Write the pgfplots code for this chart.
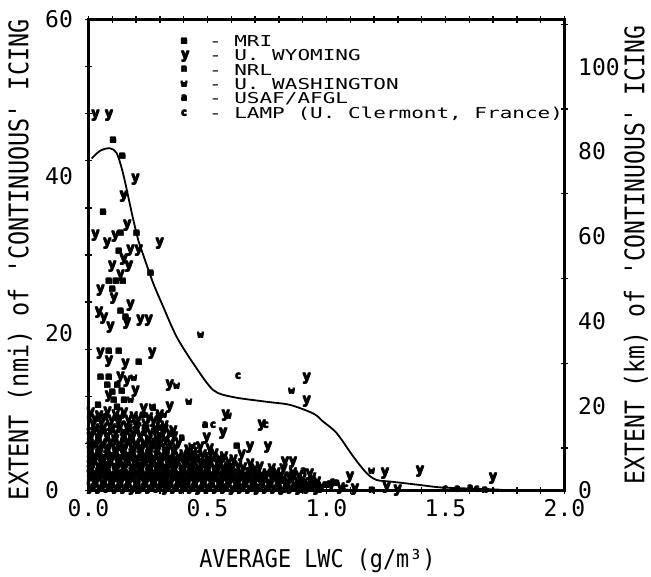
\documentclass[border=0pt]{standalone}
\usepackage{fontspec}
\setmainfont{DejaVu Sans Mono}
\newfontfamily\plotfont{DejaVu Sans Mono}
\usepackage{pgfplots}
\pgfplotsset{compat=1.18}

% plotter-style text helpers
\newcommand\tickfont{\plotfont\fontsize{23}{23}\selectfont}
\newcommand\labfont{\plotfont\fontsize{27}{27}\selectfont}
\newcommand\xlabfont{\plotfont\fontsize{24.5}{24.5}\selectfont}
\newcommand\leg[1]{\scalebox{1.4}[1]{#1}}
\newcommand\q{\textquotesingle}
% heavy pen letter: the glyph overprinted with small offsets
\newcommand\fat[1]{\makebox[0pt][l]{#1}\makebox[0pt][l]{\hspace{1pt}#1}%
  \makebox[0pt][l]{\raisebox{1pt}{#1}}\hspace{1pt}\raisebox{1pt}{#1}}

\pgfplotsset{
  chartframe/.style={
    at={(88.5pt,85.5pt)}, anchor=south west,
    scale only axis, width=476pt, height=471pt,
    xmin=0, xmax=2,
    axis line style={line width=2.2pt},
    tick style={line width=1.3pt, black},
    tick align=center,
    major tick length=0pt, minor tick length=7pt,
  },
  lettermark/.style={only marks, mark=text, text mark={\fat{#1}}, text mark as node=true,
    text mark style={font=\plotfont\bfseries\fontsize{10}{10}\selectfont, inner sep=0pt, draw=none}},
  bigletter/.style={only marks, mark=text, text mark={\fat{#1}}, text mark as node=true,
    text mark style={font=\plotfont\bfseries\fontsize{14}{14}\selectfont, inner sep=0pt, draw=none}},
}

\begin{document}
\begin{tikzpicture}
\useasboundingbox (0,0) rectangle (651pt,576pt);

% left axis: extent in nautical miles
\begin{axis}[
  chartframe,
  ymin=0, ymax=60,
  xtick={0,0.5,1,1.5,2}, xticklabels={0.0,0.5,1.0,1.5,2.0},
  minor xtick={0,0.1,0.2,0.3,0.4,0.5,0.6,0.7,0.8,0.9,1.0,1.1,1.2,1.3,1.4,1.5,1.6,1.7,1.8,1.9,2.0},
  ytick={0,20,40,60}, yticklabels={0,20,40,60},
  minor ytick={0,6,12,18,24,30,36,42,48,54,60},
  ytick pos=left,
  xticklabel style={font=\tickfont, anchor=north, inner sep=0pt, yshift=-9pt},
  yticklabel style={font=\tickfont, anchor=west, inner sep=0pt, xshift=-43.5pt},
  every axis x label/.style={at={(axis description cs:0.481,-0.150)}, anchor=center, font=\xlabfont},
  every axis y label/.style={at={(axis description cs:-0.144,0.49)}, rotate=90, anchor=center, font=\labfont},
  xlabel={\scalebox{0.89}[1]{AVERAGE LWC (g/m³)}},
  ylabel={\scalebox{0.87}[1]{EXTENT (nmi) of \q CONTINUOUS\q\ ICING}},
  legend style={at={(axis description cs:0.1796,0.969)}, anchor=north west,
    draw=none, fill=none, inner sep=0pt, row sep=0pt, column sep=19pt,
    font=\plotfont\fontsize{15}{15}\selectfont, nodes={inner sep=0pt},
    cells={anchor=west}},
  legend image code/.code={\path[#1] plot coordinates {(0pt,0pt)}; \path (-6pt,-7pt) (6pt,7pt);},
]

% envelope curve
\addplot[black, line width=1.8pt, smooth, forget plot] coordinates {
  (0.013,42.3) (0.05,43.3) (0.09,43.6) (0.118,43.0) (0.14,41.0) (0.158,38.7)
  (0.175,36.3) (0.192,34.0) (0.21,31.8) (0.23,30.0) (0.272,26.4) (0.314,23.4)
  (0.37,19.6) (0.44,16.2) (0.524,12.8) (0.608,11.9) (0.749,11.3) (0.847,10.9)
  (0.945,9.8) (0.985,8.8) (1.043,7.3) (1.113,4.3) (1.169,2.2) (1.211,1.34)
  (1.274,1.12) (1.393,0.7) (1.477,0.4) (1.60,0.25) (1.70,0.15) (1.77,0.0)
};

% m - MRI
\addplot[lettermark=m] coordinates {
  (0.104,44.6) (0.142,42.6) (0.062,35.5) (0.135,32.8) (0.202,32.8) (0.128,30.5)
  (0.261,27.7) (0.086,26.7) (0.115,26.7) (0.145,26.7) (0.100,25.6) (0.135,22.8)
  (0.156,22.1) (0.086,17.7) (0.128,17.7) (0.212,16.4) (0.051,14.4) (0.086,14.4)
  (0.079,13.4) (0.121,13.4) (0.107,11.5) (0.150,11.5) (0.623,5.6) (0.300,7.9)
  (0.070,3.0) (0.140,5.4) (0.220,1.8) (0.310,2.9) (0.400,0.8) (0.520,1.6)
  (0.630,0.6) (0.740,1.5) (0.880,0.5) (0.060,8.0) (0.180,6.6) (0.250,3.9)
  (0.040,10.9) (0.120,10.6) (0.100,12.5) (0.140,12.7) (0.070,9.3) (0.230,9.6)
  (0.160,4.4) (0.280,6.3) (0.350,3.8) (0.450,2.6) (0.560,0.4) (0.690,2.4)
  (0.020,5.8) (0.110,1.4) (0.200,0.3) (0.330,0.9) (0.480,3.4) (0.600,1.9)
};
\addlegendentry{\leg{- MRI}}

% y - U. Wyoming
\addplot[bigletter=y] coordinates {
  (0.030,47.8) (0.086,47.8) (0.198,39.6) (0.149,37.4) (0.163,33.8) (0.030,32.5)
  (0.079,31.5) (0.114,32.3) (0.300,31.5) (0.177,30.5) (0.212,30.5) (0.149,29.4)
  (0.100,28.5) (0.170,28.5) (0.135,27.4) (0.051,25.5) (0.107,24.5) (0.177,23.5)
  (0.044,22.6) (0.065,21.9) (0.162,21.3) (0.219,21.7) (0.254,21.7) (0.093,20.7)
  (0.051,17.5) (0.086,16.4) (0.156,16.0) (0.268,17.5) (0.135,14.4) (0.163,13.9)
  (0.198,12.6) (0.086,11.9) (0.342,13.4) (0.233,10.3) (0.342,10.5)
  (0.917,14.3) (0.917,11.3) (0.566,7.3) (0.728,8.3) (0.497,6.6) (0.679,5.4)
  (0.644,4.4) (0.755,5.4) (0.826,3.5) (0.860,3.5) (0.930,2.0) (1.246,2.2)
  (1.099,1.6) (1.253,0.4) (1.300,0.0) (1.393,2.4) (1.700,1.55) (0.577,9.6)
  (0.356,7.5) (0.300,9.2)
  % dense band below 10 nmi
  (0.010,9.8) (0.045,9.4) (0.080,9.9) (0.115,9.5) (0.150,9.8) (0.190,9.3) (0.300,9.6)
  (0.028,9.0) (0.063,9.1) (0.098,8.9) (0.133,9.2) (0.168,8.9) (0.210,9.0) (0.255,9.1)
  (0.020,8.4) (0.055,8.7) (0.090,8.3) (0.125,8.6) (0.160,8.2) (0.200,8.5) (0.240,8.4)
  (0.275,8.8) (0.320,8.2)
  (0.028,7.8) (0.063,7.9) (0.098,7.7) (0.133,8.0) (0.168,7.7) (0.205,7.9) (0.240,7.6)
  (0.282,7.9) (0.320,7.6)
  (0.010,7.1) (0.045,7.4) (0.080,7.0) (0.115,7.3) (0.150,7.1) (0.185,7.4) (0.220,7.0)
  (0.260,7.3) (0.300,6.9) (0.340,7.2)
  (0.010,6.6) (0.043,6.5) (0.078,6.7) (0.113,6.4) (0.148,6.6) (0.183,6.5) (0.218,6.7)
  (0.253,6.4) (0.288,6.6) (0.325,6.4) (0.360,6.7)
  (0.025,6.0) (0.060,5.8) (0.095,6.1) (0.130,5.9) (0.165,6.2) (0.200,5.8) (0.235,6.0)
  (0.270,5.7) (0.305,6.1) (0.345,5.8) (0.380,6.0) (0.470,5.5) (0.510,5.2)
  (0.010,5.4) (0.043,5.3) (0.078,5.5) (0.113,5.2) (0.148,5.4) (0.183,5.3) (0.218,5.5)
  (0.253,5.2) (0.288,5.4) (0.323,5.2) (0.365,5.4) (0.420,5.1)
  (0.010,4.8) (0.045,4.6) (0.080,4.9) (0.115,4.7) (0.150,4.9) (0.185,4.6) (0.220,4.8)
  (0.255,4.5) (0.290,4.9) (0.325,4.6) (0.360,4.8) (0.400,4.5) (0.440,4.7) (0.480,4.4)
  (0.530,4.6) (0.570,4.2)
  (0.028,4.2) (0.063,4.1) (0.098,4.3) (0.133,4.0) (0.168,4.2) (0.203,4.1) (0.238,4.3)
  (0.273,4.0) (0.308,4.2) (0.343,4.0) (0.380,4.2) (0.420,4.0) (0.460,4.2) (0.505,4.0)
  (0.550,3.9) (0.610,3.8)
  (0.015,3.9) (0.050,3.8) (0.085,4.0) (0.120,3.8) (0.155,3.9) (0.190,3.7) (0.225,3.9)
  (0.260,3.7) (0.295,3.9) (0.330,3.7) (0.365,3.8) (0.400,3.6) (0.435,3.8) (0.470,3.6)
  (0.505,3.7) (0.540,3.5)
  (0.025,3.6) (0.060,3.4) (0.095,3.7) (0.130,3.5) (0.165,3.6) (0.200,3.3) (0.235,3.7)
  (0.270,3.4) (0.305,3.6) (0.340,3.3) (0.375,3.6) (0.410,3.4) (0.445,3.7) (0.480,3.3)
  (0.515,3.5) (0.550,3.2) (0.590,3.5) (0.630,3.1) (0.680,3.3) (0.720,2.9)
  (0.010,3.0) (0.043,2.9) (0.078,3.1) (0.113,2.8) (0.148,3.0) (0.183,2.9) (0.218,3.1)
  (0.253,2.8) (0.288,3.0) (0.323,2.8) (0.358,3.0) (0.393,2.8) (0.428,3.0) (0.463,2.8)
  (0.498,3.0) (0.533,2.7) (0.568,2.9) (0.603,2.7) (0.650,2.8) (0.700,2.6) (0.770,2.7)
  (0.820,2.6)
  (0.010,2.4) (0.045,2.2) (0.080,2.5) (0.115,2.3) (0.150,2.5) (0.185,2.2) (0.220,2.4)
  (0.255,2.2) (0.290,2.5) (0.325,2.3) (0.360,2.4) (0.395,2.1) (0.430,2.4) (0.465,2.2)
  (0.500,2.4) (0.535,2.1) (0.570,2.3) (0.605,2.0) (0.640,2.3) (0.675,2.1) (0.710,2.3)
  (0.750,2.0) (0.790,2.2) (0.860,2.1)
  (0.028,2.0) (0.063,2.1) (0.098,1.9) (0.133,2.1) (0.168,2.0) (0.203,2.1) (0.238,1.9)
  (0.273,2.1) (0.308,2.0) (0.343,2.1) (0.378,1.9) (0.413,2.0) (0.448,1.9) (0.483,2.0)
  (0.518,1.9) (0.553,2.0) (0.588,1.9) (0.623,1.8) (0.658,1.9) (0.693,1.8) (0.728,1.9)
  (0.768,1.8) (0.808,1.9) (0.845,1.7) (0.885,1.8)
  (0.010,1.8) (0.043,1.7) (0.078,1.9) (0.113,1.6) (0.148,1.8) (0.183,1.7) (0.218,1.9)
  (0.253,1.6) (0.288,1.8) (0.323,1.6) (0.358,1.8) (0.393,1.6) (0.428,1.8) (0.463,1.6)
  (0.498,1.8) (0.533,1.6) (0.568,1.7) (0.603,1.5) (0.638,1.7) (0.673,1.5) (0.708,1.7)
  (0.743,1.5) (0.778,1.6) (0.820,1.5) (0.860,1.6) (0.900,1.4) (0.940,1.5)
  (0.025,1.2) (0.060,1.0) (0.095,1.3) (0.130,1.1) (0.165,1.2) (0.200,1.0) (0.235,1.3)
  (0.270,1.1) (0.305,1.2) (0.340,1.0) (0.375,1.2) (0.410,1.0) (0.445,1.3) (0.480,1.1)
  (0.515,1.2) (0.550,1.0) (0.585,1.2) (0.620,1.0) (0.655,1.1) (0.690,0.9) (0.725,1.1)
  (0.760,0.9) (0.800,1.1) (0.840,0.9) (0.880,1.0) (0.920,0.8) (0.960,1.0)
  (0.028,0.7) (0.063,0.6) (0.098,0.8) (0.133,0.6) (0.168,0.7) (0.203,0.5) (0.238,0.7)
  (0.273,0.6) (0.308,0.8) (0.343,0.6) (0.378,0.7) (0.413,0.5) (0.448,0.7) (0.483,0.6)
  (0.518,0.7) (0.553,0.5) (0.588,0.7) (0.623,0.5) (0.658,0.7) (0.693,0.5) (0.728,0.6)
  (0.763,0.5) (0.798,0.6) (0.833,0.4) (0.868,0.6) (0.903,0.4) (0.938,0.5) (0.980,0.4)
  (1.020,0.5)
  (0.010,0.3) (0.045,0.2) (0.080,0.4) (0.115,0.2) (0.150,0.3) (0.185,0.1) (0.220,0.3)
  (0.255,0.2) (0.290,0.4) (0.325,0.1) (0.360,0.3) (0.395,0.2) (0.430,0.3) (0.465,0.1)
  (0.500,0.3) (0.535,0.2) (0.570,0.3) (0.605,0.1) (0.640,0.2) (0.675,0.3) (0.710,0.1)
  (0.745,0.2) (0.780,0.3) (0.815,0.1) (0.850,0.2) (0.885,0.1) (0.920,0.3) (0.960,0.1)
  (1.060,0.2) (1.120,0.1)
};
\addlegendentry{\leg{- U. WYOMING}}

% n - NRL
\addplot[lettermark=n] coordinates {
  (0.392,6.6) (1.190,0.0) (1.666,0.0) (0.950,0.3) (0.330,5.0)
};
\addlegendentry{\leg{- NRL}}

% w - U. Washington
\addplot[lettermark=w] coordinates {
  (0.471,19.8) (0.191,14.3) (0.177,11.5) (0.422,11.3) (0.268,10.6) (0.317,9.6)
  (0.370,13.3) (0.854,12.6) (0.588,9.4) (1.190,2.4) (0.434,5.6)
};
\addlegendentry{\leg{- U. WASHINGTON}}

% a - USAF/AFGL
\addplot[lettermark=a] coordinates {
  (0.272,10.5) (0.490,8.3) (0.903,2.4) (1.000,0.7) (1.043,0.9) (1.603,0.3)
  (0.580,2.7) (0.700,0.5) (0.800,1.6) (0.900,0.6) (0.970,0.4) (1.550,0.2)
};
\addlegendentry{\leg{- USAF/AFGL}}

% c - LAMP
\addplot[lettermark=c] coordinates {
  (0.629,14.5) (0.524,8.3) (0.745,8.3) (1.498,0.1) (1.631,0.1) (0.450,5.6)
  (1.080,0.3) (1.025,1.1)
};
\addlegendentry{\leg{- LAMP (U. Clermont, France)}}
\end{axis}

% right axis: the same extent in kilometres
\begin{axis}[
  chartframe,
  ymin=0, ymax=111.12,
  axis x line=none, axis y line*=right,
  ytick={0,20,40,60,80,100}, yticklabels={0,20,40,60,80,100},
  minor ytick={10,30,50,70,90,110},
  yticklabel style={font=\tickfont, anchor=west, inner sep=0pt, xshift=13.5pt},
  every axis y label/.style={at={(axis description cs:1.150,0.5)}, rotate=90, anchor=center, font=\labfont},
  ylabel={\scalebox{0.855}[1]{EXTENT (km) of \q CONTINUOUS\q\ ICING}},
]
\addplot[draw=none, forget plot] coordinates {(0,0) (2,111.12)};
\end{axis}
\end{tikzpicture}
\end{document}
